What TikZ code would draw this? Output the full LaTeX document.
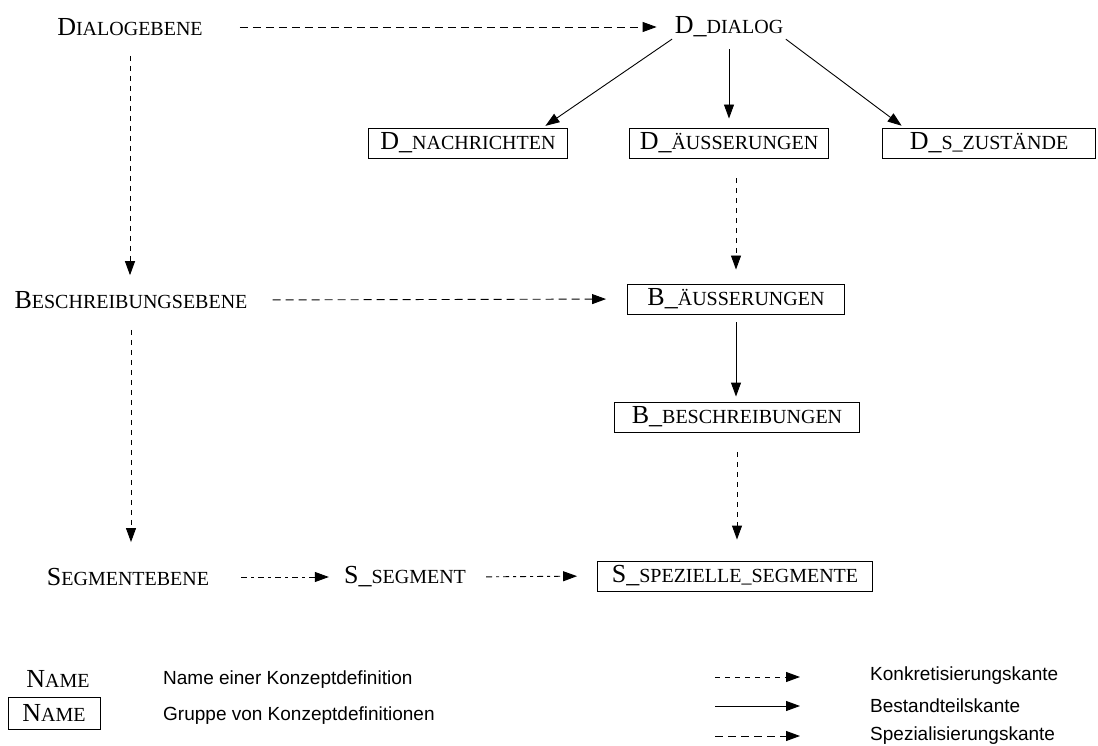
\documentclass[tikz,border=0pt]{standalone}
\usepackage{fontspec}
\setmainfont{Liberation Serif}
\newfontfamily\legendfont{Liberation Sans}
\usetikzlibrary{arrows.meta,calc}

% name set as caps with a large initial part and smaller remainder
\newcommand{\kn}[2]{{\fontsize{26}{28}\selectfont #1}{\fontsize{20}{22}\selectfont #2}}

\tikzset{
  lbl/.style={inner sep=0pt, anchor=center},
  grp/.style={draw, line width=0.9pt, inner xsep=10pt, inner ysep=0pt, minimum height=30pt},
  legtext/.style={anchor=west, inner sep=0pt, font=\legendfont\fontsize{19}{21}\selectfont},
  tip/.style={-{Triangle[length=14pt,width=10pt]}},
  part/.style={tip, line width=0.9pt},
  konkret/.style={tip, line width=0.9pt, dash pattern=on 5pt off 5pt},
  spezial/.style={tip, line width=0.9pt, dash pattern=on 8pt off 5pt},
  segedge/.style={tip, line width=0.9pt, dash pattern=on 6pt off 4pt on 3pt off 4pt},
}

\begin{document}
\begin{tikzpicture}[x=1pt, y=-1pt]
\useasboundingbox (0,0) rectangle (1098,746);

% levels and concepts
\node[lbl] (dial)   at (130,27)  {\kn{D}{IALOGEBENE}};
\node[lbl] (ddialog) at (729,27) {\kn{D\_}{DIALOG}};
\node[grp, minimum width=199pt] (dnach)  at (468,143) {\kn{D\_}{NACHRICHTEN}};
\node[grp, minimum width=193pt] (daeus)  at (729,143) {\kn{D\_}{ÄUSSERUNGEN}};
\node[grp, minimum width=213pt] (dszu)   at (989,143) {\kn{D\_}{S\_ZUSTÄNDE}};

\node[lbl] (besch)  at (131,300) {\kn{B}{ESCHREIBUNGSEBENE}};
\node[grp, minimum width=217pt] (baeus)  at (736,299) {\kn{B\_}{ÄUSSERUNGEN}};
\node[grp, minimum width=245pt] (bbesch) at (737,417) {\kn{B\_}{BESCHREIBUNGEN}};

\node[lbl] (seg)    at (128,577) {\kn{S}{EGMENTEBENE}};
\node[lbl] (sseg)   at (405,577) {\kn{S\_}{SEGMENT}};
\node[grp, minimum width=275pt] (sspez)  at (735,576) {\kn{S\_}{SPEZIELLE\_SEGMENTE}};

% edges
\draw[spezial, shorten <=37pt, shorten >=18pt] (dial.east) -- (ddialog.west);
\draw[konkret, shorten <=20pt, shorten >=16pt] (dial.south) -- (dial.south |- besch.north);

\draw[part, shorten <=3pt, shorten >=3pt] (ddialog.south west) -- ($(dnach.north)!0.75!(dnach.north east)$);
\draw[part, shorten <=12pt, shorten >=9pt] (ddialog.south) -- (daeus.north);
\draw[part, shorten <=3pt, shorten >=3pt] (ddialog.south east) -- ($(dszu.north west)+(22,0)$);

\draw[konkret, shorten <=20pt, shorten >=14pt] (baeus.north |- daeus.south) -- (baeus.north);
\draw[spezial, shorten <=25pt, shorten >=21pt] (besch.east) -- (baeus.west);
\draw[part, shorten <=8pt, shorten >=5pt] (baeus.south) -- (baeus.south |- bbesch.north);
\draw[konkret, shorten <=20pt, shorten >=21pt] (bbesch.south) -- (bbesch.south |- sspez.north);

\draw[konkret, shorten <=21pt, shorten >=26pt] (besch.south) -- (besch.south |- seg.north);
\draw[segedge, shorten <=32pt, shorten >=15pt] (seg.east) -- (sseg.west);
\draw[segedge, shorten <=20pt, shorten >=20pt] (sseg.east) -- (sspez.west);

% legend: node kinds
\node[lbl] (lname) at (58,679) {\kn{N}{AME}};
\node[grp, minimum width=92pt, minimum height=32pt] (lgrp) at (54,713) {\kn{N}{AME}};
\node[legtext] (tname) at (163,680) {Name einer Konzeptdefinition};
\node[legtext] (tgrp)  at (163,716) {Gruppe von Konzeptdefinitionen};

% legend: edge kinds
\coordinate (k1) at (715,677); \coordinate (k2) at (800,677);
\coordinate (b1) at (715,706); \coordinate (b2) at (800,706);
\coordinate (s1) at (715,736); \coordinate (s2) at (800,736);
\draw[konkret] (k1) -- (k2);
\draw[part] (b1) -- (b2);
\draw[spezial] (s1) -- (s2);
\node[legtext] (tk) at (870,676) {Konkretisierungskante};
\node[legtext] (tb) at (870,706) {Bestandteilskante};
\node[legtext] (ts) at (870,736) {Spezialisierungskante};
\end{tikzpicture}
\end{document}
